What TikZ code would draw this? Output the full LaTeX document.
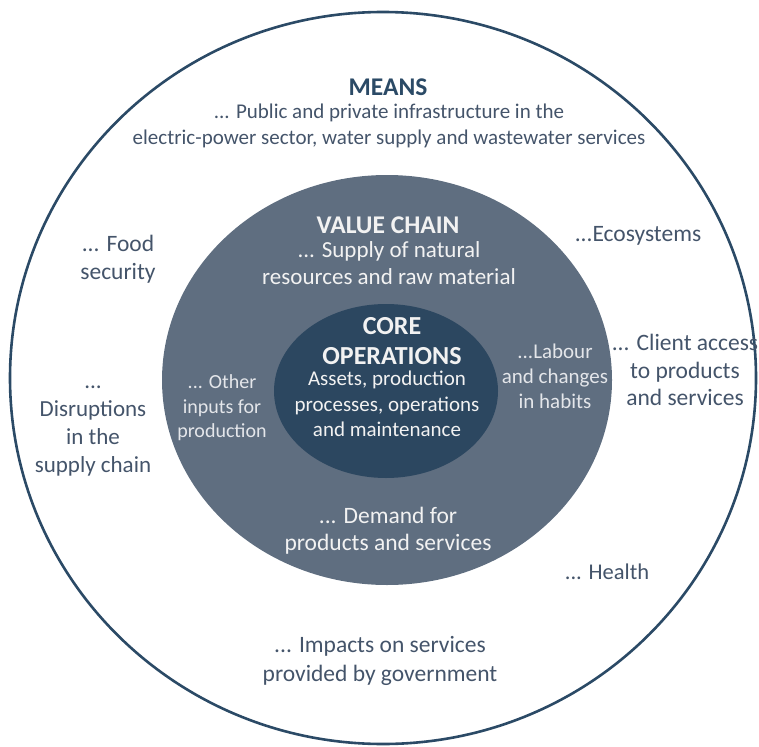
\documentclass[tikz,border=0pt]{standalone}
\usepackage{fontspec}
\setmainfont{Carlito}
\definecolor{navy}{HTML}{2B4A66}
\definecolor{midfill}{HTML}{5F6E80}
\definecolor{corefill}{HTML}{2C4760}
\definecolor{outtext}{HTML}{44546A}
\definecolor{intext}{HTML}{F2F2F2}
\definecolor{dimtext}{HTML}{E4E6EA}
\tikzset{
  outlbl/.style={align=center, text=outtext, font=\fontsize{23.5}{27}\selectfont, inner sep=0pt},
  inlbl/.style={align=center, text=intext, font=\fontsize{23}{27}\selectfont, inner sep=0pt},
  smalllbl/.style={align=center, text=dimtext, font=\fontsize{20}{24.5}\selectfont, inner sep=0pt},
  title/.style={align=center, font=\bfseries\fontsize{25.5}{30}\selectfont, inner sep=0pt},
}
\begin{document}
\begin{tikzpicture}[x=1pt,y=-1pt]
\useasboundingbox (0,0) rectangle (759,746);
% outer ring
\draw[navy, line width=2.6pt] (383,378) ellipse [x radius=373, y radius=366];
% value chain
\fill[midfill] (387,380) ellipse [x radius=225, y radius=205];
% core
\fill[corefill] (386,391) ellipse [x radius=112, y radius=87];

% outer labels
\node[title, text=navy] (means) at (388,87) {MEANS};
\node[outlbl, font=\fontsize{21}{26}\selectfont] (infra) at (389,126) {... Public and private infrastructure in the\\electric-power sector, water supply and wastewater services};
\node[outlbl, font=\fontsize{23.5}{28}\selectfont] (food) at (118,259) {... Food\\security};
\node[outlbl] (eco) at (638,236) {...Ecosystems};
\node[outlbl, font=\fontsize{23.5}{27.5}\selectfont] (client) at (685,370) {... Client access\\to products\\and services};
\node[outlbl, font=\fontsize{23}{27.7}\selectfont] (disr) at (93,431) {...\\Disruptions\\in the\\supply chain};
\node[outlbl, font=\fontsize{22.5}{27}\selectfont] (health) at (607,572) {... Health};
\node[outlbl, font=\fontsize{23.5}{29}\selectfont] (impacts) at (380,661) {... Impacts on services\\provided by government};

% value chain labels
\node[title, text=intext] (vc) at (388,225) {VALUE CHAIN};
\node[inlbl] (supply) at (389,263) {... Supply of natural\\resources and raw material};
\node[smalllbl] (other) at (222,408) {... Other\\inputs for\\production};
\node[smalllbl, font=\fontsize{21}{25}\selectfont] (labour) at (555,376) {...Labour\\and changes\\in habits};
\node[inlbl, font=\fontsize{23.5}{27}\selectfont] (demand) at (388,531) {... Demand for\\products and services};

% core labels
\node[title, text=intext, font=\bfseries\fontsize{26}{30}\selectfont] (core) at (392,341) {CORE\\OPERATIONS};
\node[inlbl, font=\fontsize{21}{25.5}\selectfont] (assets) at (387,404) {Assets, production\\processes, operations\\and maintenance};
\end{tikzpicture}
\end{document}
